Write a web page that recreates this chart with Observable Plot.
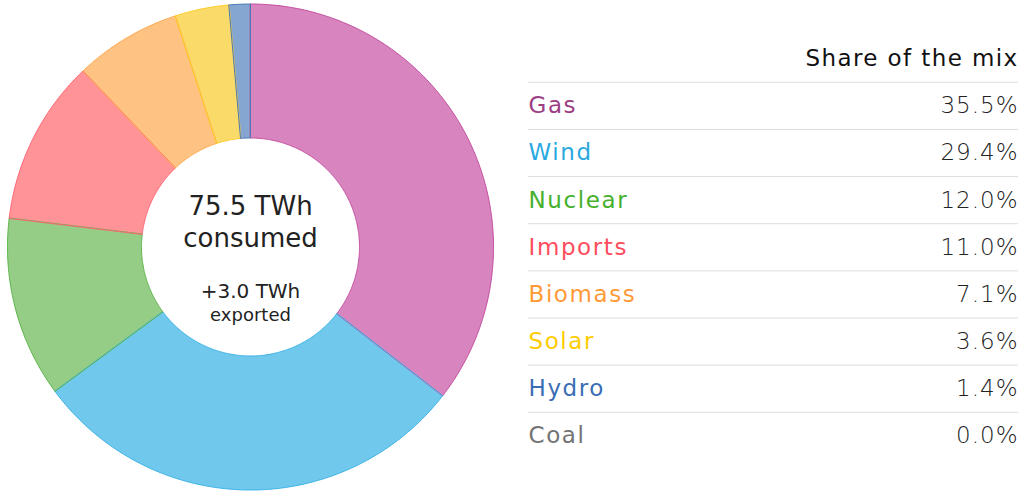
<!DOCTYPE html>
<html>
<head>
<meta charset="utf-8">
<script src="https://cdn.jsdelivr.net/npm/d3@7"></script>
<script src="https://cdn.jsdelivr.net/npm/@observablehq/plot@0.6"></script>
<style>
  html, body { margin: 0; padding: 0; background: #fff; }
  #wrap { position: relative; width: 1024px; height: 493px; overflow: hidden; }
  #pie { position: absolute; left: 0; top: 0; }
  #table { position: absolute; left: 500px; top: 0; }
  svg { font-family: "DejaVu Sans", sans-serif; }
</style>
</head>
<body>
<div id="wrap"><div id="pie"></div><div id="table"></div></div>
<script>
const names = ["Gas", "Wind", "Nuclear", "Imports", "Biomass", "Solar", "Hydro", "Coal"];
const shares = [35.5, 29.4, 12.0, 11.0, 7.1, 3.6, 1.4, 0.0];
const sliceFills = ["#d884bf", "#70c8ed", "#95cd87", "#ff9398", "#fec282", "#fadb69", "#85a6d0", "#999999"];
const sliceStrokes = ["#c44d9f", "#3ab2e6", "#5cb548", "#ff6675", "#ffa94f", "#ffcc22", "#4a78b8", "#777777"];
const labelColors = ["#9b3e84", "#2aa9e0", "#45b02b", "#ff4d5d", "#ff9a38", "#ffcc00", "#3a6db5", "#737373"];
const header = "Share of the mix";
const consumedTWh = 75.5;
const exportedTWh = 3.0;

const rows = names.map((name, i) => ({name, share: shares[i], row: i}));

// ---- donut ----
const R_OUT = 243, R_IN = 109;
const arcs = d3.pie().sort(null).value(d => d.share)(rows.filter(d => d.share > 0));
const pts = [];
for (const a of arcs) {
  const n = Math.max(2, Math.ceil((a.endAngle - a.startAngle) / (Math.PI / 360)));
  for (let k = 0; k <= n; k++) {
    const t = a.startAngle + (a.endAngle - a.startAngle) * k / n;
    pts.push({name: a.data.name, x: R_OUT * Math.sin(t), y: R_OUT * Math.cos(t)});
  }
  for (let k = n; k >= 0; k--) {
    const t = a.startAngle + (a.endAngle - a.startAngle) * k / n;
    pts.push({name: a.data.name, x: R_IN * Math.sin(t), y: R_IN * Math.cos(t)});
  }
}

const outlineMarks = arcs.map(a => Plot.line(pts.filter(p => p.name === a.data.name), {
  x: "x", y: "y", curve: "linear-closed",
  stroke: sliceStrokes[names.indexOf(a.data.name)], strokeWidth: 1
}));

const pie = Plot.plot({
  width: 500, height: 493, margin: 0,
  x: {domain: [-250, 250], axis: null},
  y: {domain: [-246.5, 246.5], axis: null},
  color: {domain: names, range: sliceFills},
  marks: [
    Plot.line(pts, {x: "x", y: "y", z: "name", fill: "name", stroke: "none", curve: "linear-closed"}),
    ...outlineMarks,
    Plot.text([`${consumedTWh.toFixed(1)} TWh`], {x: 0, y: 40, fontSize: 26, fill: "#222", text: d => d}),
    Plot.text(["consumed"], {x: 0, y: 8, fontSize: 26, fill: "#222", text: d => d}),
    Plot.text([`+${exportedTWh.toFixed(1)} TWh`], {x: 0, y: -45, fontSize: 20, fill: "#222", text: d => d}),
    Plot.text(["exported"], {x: 0, y: -68, fontSize: 18, fill: "#222", text: d => d})
  ]
});
document.getElementById("pie").appendChild(pie);

// ---- table ----
const table = Plot.plot({
  width: 524, height: 493, margin: 0,
  x: {domain: [0, 1], range: [28, 518], axis: null},
  y: {domain: [-1, 7], range: [58.2, 435.4], axis: null},
  color: {domain: names, range: labelColors},
  marks: [
    Plot.ruleY(rows, {y: d => d.row - 0.5, x1: 0, x2: 1, stroke: "#dddddd", strokeWidth: 1}),
    Plot.text([header], {x: 1, y: -1, text: d => d, textAnchor: "end", fontSize: 23, fill: "#111"}),
    Plot.text(rows, {x: 0, y: "row", text: "name", fill: "name", textAnchor: "start", fontSize: 23}),
    Plot.text(rows, {x: 1, y: "row", text: d => d.share.toFixed(1) + "%", textAnchor: "end", fontSize: 23, fill: "#222", fontWeight: 300})
  ]
});
const textGroups = d3.select(table).selectAll('g[aria-label="text"]').nodes();
const spacing = ["1.4px", "1.6px", "1px"];
textGroups.forEach((g, i) => g.setAttribute("letter-spacing", spacing[i]));
document.getElementById("table").appendChild(table);
</script>
</body>
</html>
